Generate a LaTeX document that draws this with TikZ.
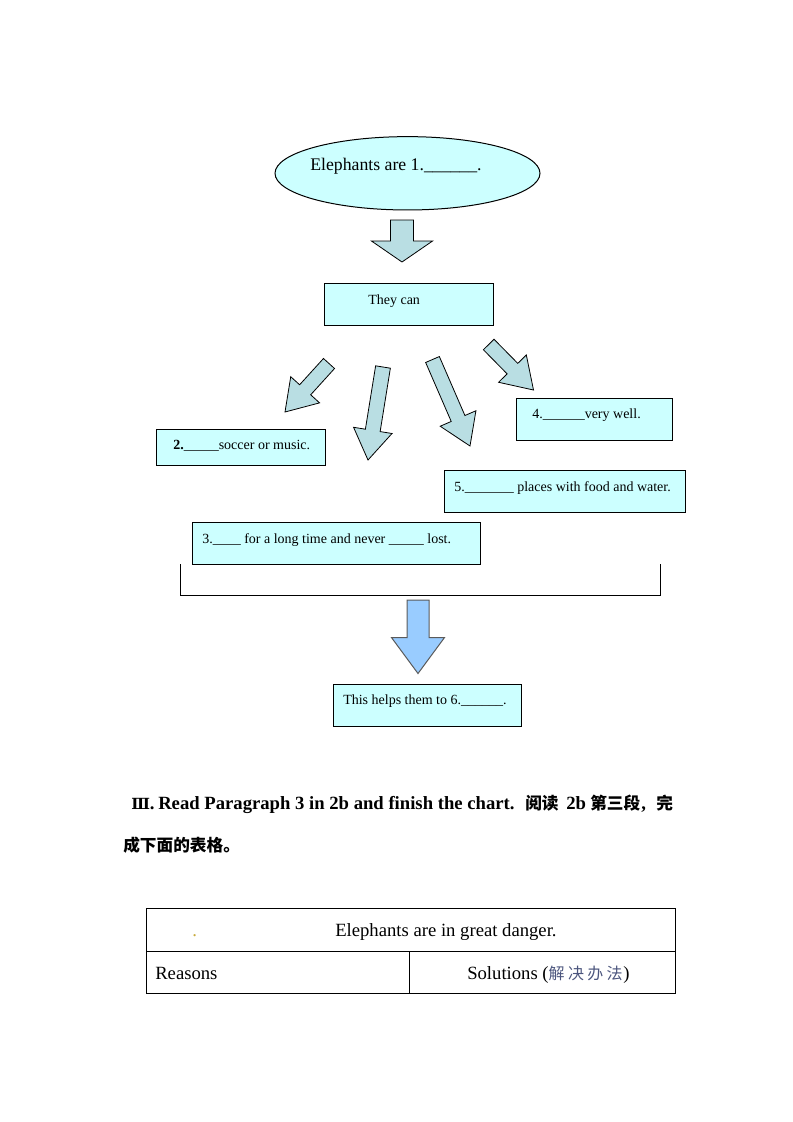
\documentclass[tikz,border=0pt]{standalone}
\usepackage{fontspec}
\setmainfont{Liberation Serif}
\newfontfamily\cjk{Noto Sans CJK SC}
\newfontfamily\romfont{DejaVu Serif}
\usetikzlibrary{calc,fit,shapes.geometric}
\definecolor{boxfill}{HTML}{CCFFFF}
\definecolor{arrfill}{HTML}{B9DEE3}
\definecolor{bluearr}{HTML}{99CCFF}
\definecolor{bluearrline}{RGB}{90,90,90}
\definecolor{cjkgray}{RGB}{75,85,125}
\definecolor{dotcol}{RGB}{200,170,60}
\newcommand\fatarrow[6]{%
  \coordinate (#1-B) at ($(#2)!#5!(#1)$);
  \draw[#6] ($(#1)!#3!90:(#2)$) -- ($(#1-B)!#3!90:(#2)$) -- ($(#1-B)!#4!90:(#2)$) -- (#2)
    -- ($(#1-B)!#4!-90:(#2)$) -- ($(#1-B)!#3!-90:(#2)$) -- ($(#1)!#3!-90:(#2)$) -- cycle;
}
\tikzset{
  boxst/.style={draw, line width=0.75pt, fill=boxfill, inner sep=0pt},
  arrst/.style={draw, line width=0.6pt, fill=arrfill, line join=miter},
  bluearrst/.style={draw=bluearrline, line width=0.75pt, fill=bluearr, line join=miter},
  txts/.style={inner sep=0pt, anchor=base west, font=\fontsize{10.5}{12}\selectfont},
  txtm/.style={inner sep=0pt, anchor=base west, font=\fontsize{12}{14}\selectfont},
  txtl/.style={inner sep=0pt, anchor=base west, font=\fontsize{14}{16}\selectfont},
  lin/.style={line width=0.75pt}
}
\begin{document}
\begin{tikzpicture}[x=0.75pt, y=-0.75pt]
\useasboundingbox (0,0) rectangle (793,1122);

% ellipse
\node[ellipse, draw, line width=0.75pt, fill=boxfill, minimum width=198.75pt, minimum height=55pt, inner sep=0pt] (ell) at (407.5,173.3) {};
\node[inner sep=0pt, anchor=base west, font=\fontsize{13.3}{15}\selectfont] (t1) at (310,170) {Elephants are 1.\_\_\_\_\_\_.};

% arrow from ellipse
\coordinate (aT) at (402,220);
\coordinate (aP) at (402,262);
\fatarrow{aT}{aP}{8.6pt}{22.9pt}{15.75pt}{arrst}

% They can box
\node[boxst, fit={(324,283) (493,325)}] (b0) {};
\node[txts] (t0) at (368,304) {They can};

% four arrows
\coordinate (bT) at (329,363.5);
\coordinate (bP) at (285,412);
\fatarrow{bT}{bP}{5.6pt}{14.6pt}{22.5pt}{arrst}
\coordinate (cT) at (383,367);
\coordinate (cP) at (368,460);
\fatarrow{cT}{cP}{5.6pt}{14.6pt}{22.5pt}{arrst}
\coordinate (dT) at (432.5,359.5);
\coordinate (dP) at (470,446);
\fatarrow{dT}{dP}{5.6pt}{14.6pt}{22.5pt}{arrst}
\coordinate (eT) at (488.7,344.5);
\coordinate (eP) at (533.5,390);
\fatarrow{eT}{eP}{5.6pt}{14.6pt}{22.5pt}{arrst}

% boxes
\node[boxst, fit={(156,429) (325,465)}] (b2) {};
\node[txts] (t2) at (173,449) {\textbf{2.}\_\_\_\_\_soccer or music.};
\node[boxst, fit={(516.5,398) (672,440)}] (b4) {};
\node[txts] (t4) at (532,418) {4.\_\_\_\_\_\_very well.};
\node[boxst, fit={(444,470.5) (685,512)}] (b5) {};
\node[txts] (t5) at (454,491) {5.\_\_\_\_\_\_\_ places with food and water.};

% bracket
\coordinate (k1) at (180,564);
\coordinate (k2) at (180,595);
\coordinate (k3) at (660,595);
\coordinate (k4) at (660,564);
\draw[lin] (k1) -- (k2) -- (k3) -- (k4);

\node[boxst, fit={(192,522) (480.5,564)}] (b3) {};
\node[txts] (t3) at (202,543) {3.\_\_\_\_ for a long time and never \_\_\_\_\_ lost.};

% blue arrow
\coordinate (fT) at (418,600);
\coordinate (fP) at (418,673.5);
\fatarrow{fT}{fP}{8.25pt}{19.9pt}{27pt}{bluearrst}

\node[boxst, fit={(333,684) (521.5,726.5)}] (b6) {};
\node[txts] (t6) at (343,704) {This helps them to 6.\_\_\_\_\_\_.};

% heading
\node[txtl] (h1) at (131,809) {{\romfont\bfseries\fontsize{11.5}{14}\selectfont Ⅲ}\textbf{.}};
\node[txtl] (h2) at (158,809) {\bfseries Read Paragraph 3 in 2b and finish the chart.};
\node[txtm] (h3) at (525,809) {\cjk\bfseries\fontsize{12.5}{14}\selectfont 阅读};
\node[txtl] (h4) at (566,809) {\bfseries 2b};
\node[txtm] (h5) at (590,809) {\cjk\bfseries\fontsize{12.5}{14}\selectfont 第三段};
\node[txtl] (h6) at (641,809) {\bfseries ,};
\node[txtm] (h7) at (656,809) {\cjk\bfseries\fontsize{12.5}{14}\selectfont 完};
\node[txtm] (h8) at (123,851) {\cjk\bfseries\fontsize{12.5}{14}\selectfont 成下面的表格。};

% table
\coordinate (tl) at (146,908);
\coordinate (br) at (675,993);
\coordinate (ml) at (146,951);
\coordinate (mr) at (675,951);
\coordinate (vt) at (409,951);
\coordinate (vb) at (409,993);
\draw[lin] (tl) rectangle (br);
\draw[lin] (ml) -- (mr);
\draw[lin] (vt) -- (vb);
\node[txtl] (d0) at (192,936) {\textcolor{dotcol}{.}};
\node[txtl] (d1) at (335,936) {Elephants are in great danger.};
\node[txtl] (d2) at (155,979) {Reasons};
\node[txtl] (d3) at (467,979) {Solutions ({\cjk\fontsize{12}{14}\selectfont\color{cjkgray}\makebox[14.5pt][l]{解}\makebox[14.5pt][l]{决}\makebox[14.5pt][l]{办}\makebox[12.5pt][l]{法}})};
\end{tikzpicture}
\end{document}
